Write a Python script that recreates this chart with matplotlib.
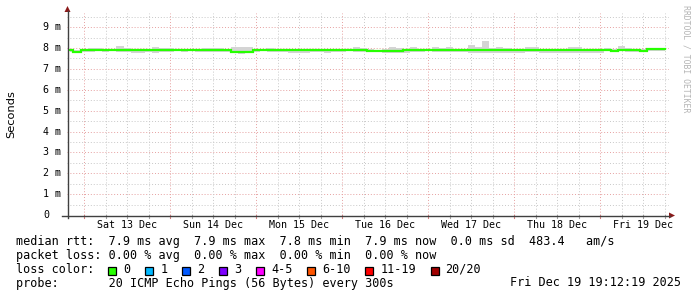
import matplotlib
matplotlib.use('Agg')
import matplotlib.pyplot as plt
from matplotlib.patches import Rectangle, Polygon
from matplotlib.lines import Line2D
from matplotlib.transforms import blended_transform_factory

# ---------------- data ----------------
# bin centres: hours since Fri 12 Dec 00:00, 2-hour bins
hours = [20 + 2 * i for i in range(84)]

median_ms = [
    7.89, 7.83, 7.89, 7.89, 7.89, 7.89, 7.89, 7.89, 7.89, 7.89,
    7.89, 7.89, 7.89, 7.89, 7.89, 7.89, 7.89, 7.89, 7.89, 7.89,
    7.89, 7.89, 7.89, 7.81, 7.80, 7.81, 7.89, 7.89, 7.89, 7.89,
    7.89, 7.89, 7.89, 7.89, 7.89, 7.89, 7.89, 7.89, 7.89, 7.89,
    7.89, 7.89, 7.87, 7.86, 7.84, 7.85, 7.88, 7.89, 7.89, 7.89,
    7.89, 7.89, 7.89, 7.89, 7.89, 7.89, 7.89, 7.89, 7.89, 7.89,
    7.89, 7.89, 7.89, 7.89, 7.89, 7.89, 7.89, 7.89, 7.89, 7.89,
    7.89, 7.89, 7.89, 7.89, 7.90, 7.93, 7.88, 7.92, 7.91, 7.89,
    7.87, 7.94, 7.94, 7.95,
]

smoke_max = [
    7.94, 7.90, 7.95, 7.99, 7.98, 7.95, 7.97, 8.10, 8.00, 7.97,
    7.96, 7.95, 8.03, 8.01, 7.99, 7.95, 7.96, 7.95, 7.96, 7.99,
    8.00, 7.98, 7.97, 8.03, 8.04, 8.03, 7.96, 7.95, 7.98, 7.97,
    7.95, 7.96, 7.95, 7.97, 7.96, 7.95, 7.97, 7.96, 7.95, 7.96,
    8.03, 8.02, 7.95, 7.93, 7.95, 8.04, 8.02, 7.96, 8.04, 7.96,
    7.95, 8.03, 8.00, 8.03, 7.96, 7.97, 8.17, 8.05, 8.33, 8.00,
    8.03, 8.02, 7.96, 7.97, 8.03, 8.03, 7.96, 7.95, 7.97, 7.96,
    8.06, 8.05, 7.96, 7.95, 7.97, 7.99, 7.96, 8.10, 7.98, 7.97,
    7.96, 8.00, 7.99, 8.01,
]

smoke_min = [
    7.83, 7.78, 7.82, 7.83, 7.84, 7.83, 7.84, 7.80, 7.83, 7.76,
    7.77, 7.83, 7.78, 7.80, 7.81, 7.84, 7.83, 7.84, 7.83, 7.80,
    7.79, 7.81, 7.83, 7.74, 7.70, 7.74, 7.83, 7.84, 7.80, 7.81,
    7.83, 7.78, 7.77, 7.78, 7.80, 7.79, 7.78, 7.80, 7.83, 7.84,
    7.79, 7.80, 7.80, 7.79, 7.76, 7.74, 7.75, 7.77, 7.82, 7.83,
    7.84, 7.82, 7.83, 7.81, 7.83, 7.82, 7.75, 7.76, 7.77, 7.78,
    7.76, 7.75, 7.75, 7.77, 7.80, 7.81, 7.76, 7.75, 7.77, 7.76,
    7.75, 7.76, 7.77, 7.75, 7.78, 7.84, 7.80, 7.84, 7.83, 7.82,
    7.80, 7.86, 7.87, 7.86,
]

x_start, x_end = 19.2, 187.2           # 7 days ending Fri 19 Dec 19:12
day_midnights = [24, 48, 72, 96, 120, 144, 168]
day_label_pos = [36, 60, 84, 108, 132, 156, 180]
day_labels = ['Sat 13 Dec', 'Sun 14 Dec', 'Mon 15 Dec', 'Tue 16 Dec',
              'Wed 17 Dec', 'Thu 18 Dec', 'Fri 19 Dec']
y_ticks = [0, 1, 2, 3, 4, 5, 6, 7, 8, 9]
y_labels = ['0', '1 m', '2 m', '3 m', '4 m', '5 m', '6 m', '7 m', '8 m', '9 m']

loss_labels = ['0', '1', '2', '3', '4-5', '6-10', '11-19', '20/20']
loss_colors = ['#26ff00', '#00b8ff', '#0059ff', '#7e00ff', '#ff00ff',
               '#ff5500', '#ff0000', '#a10000']

legend_rtt = 'median rtt:  7.9 ms avg  7.9 ms max  7.8 ms min  7.9 ms now  0.0 ms sd  483.4   am/s'
legend_loss = 'packet loss: 0.00 % avg  0.00 % max  0.00 % min  0.00 % now'
legend_color = 'loss color:'
legend_probe = 'probe:       20 ICMP Echo Pings (56 Bytes) every 300s'
stamp = 'Fri Dec 19 19:12:19 2025'
watermark = 'RRDTOOL / TOBI OETIKER'

# ---------------- layout ----------------
W, H = 697, 297
fig = plt.figure(figsize=(W / 100, H / 100), dpi=100)
fig.patch.set_facecolor('white')

def fx(px):
    return px / W

def fy(py):
    return 1 - py / H

L, R, T, B = 67, 669, 13, 215
ax = fig.add_axes([fx(L), fy(B), (R - L) / W, (B - T) / H])
ax.set_xlim(x_start, x_end)
ax.set_ylim(0, 9.68)
ax.set_facecolor('white')
for s in ax.spines.values():
    s.set_visible(False)
ax.set_xticks([])
ax.set_yticks([])

MONO = 'DejaVu Sans Mono'
dot = (0, (1, 2))
minor_col = '#c8c8c8'
major_col = '#e6a0a0'

# horizontal grid
for k in range(0, 20):
    yv = k * 0.5
    if yv <= 0 or yv > 9.68:
        continue
    if k % 2 == 0:
        ax.axhline(yv, color=major_col, lw=0.7, ls=dot, zorder=1)
    else:
        ax.axhline(yv, color=minor_col, lw=0.7, ls=dot, zorder=1)

# vertical grid
h = 24 - 6 * 3
while h < x_end:
    if h > x_start:
        if h in day_midnights:
            ax.axvline(h, color=major_col, lw=0.7, ls=dot, zorder=1)
        else:
            ax.axvline(h, color=minor_col, lw=0.7, ls=dot, zorder=1)
    h += 6

# smoke + median
ax.fill_between(hours, smoke_min, smoke_max, step='mid', color='#d4d4d4',
                lw=0, zorder=2)
ax.plot(hours, median_ms, drawstyle='steps-mid', color=loss_colors[0],
        lw=1.6, zorder=3, solid_joinstyle='miter')

# tick labels
tr_x = blended_transform_factory(ax.transData, fig.transFigure)
for p, lab in zip(day_label_pos, day_labels):
    ax.text(p, fy(224.5), lab, transform=tr_x, ha='center', va='center',
            family=MONO, fontsize=7.2, color='#000000')
tr_y = blended_transform_factory(fig.transFigure, ax.transData)
for v, lab in zip(y_ticks, y_labels):
    ax.text(fx(43), v, lab, transform=tr_y, ha='left', va='center',
            family=MONO, fontsize=7.2, color='#000000')

# small x ticks below axis
h = 24 - 6 * 3
while h < x_end:
    if h > x_start:
        col = '#d08080' if h in day_midnights else '#a0a0a0'
        ax.plot([h, h], [fy(215), fy(218)], transform=tr_x, color=col,
                lw=0.8, clip_on=False, zorder=4)
    h += 6

# axis lines and arrows
axis_col = '#404040'
arrow_col = '#8b1a1a'
fig.add_artist(Line2D([fx(67.5), fx(67.5)], [fy(218), fy(11)], color=axis_col, lw=1.0))
fig.add_artist(Line2D([fx(62), fx(670)], [fy(215.5), fy(215.5)], color=axis_col, lw=1.0))
fig.add_artist(Polygon([[fx(67.5), fy(6)], [fx(64.5), fy(12)], [fx(70.5), fy(12)]],
                       closed=True, color=arrow_col, lw=0))
fig.add_artist(Polygon([[fx(675), fy(215.5)], [fx(669), fy(212.5)], [fx(669), fy(218.5)]],
                       closed=True, color=arrow_col, lw=0))

# y axis label and watermark
fig.text(fx(11), fy(114), 'Seconds', rotation=90, ha='center', va='center',
         family='DejaVu Sans', fontsize=8.2, color='#000000')
fig.text(fx(686), fy(5), watermark, rotation=270, ha='center', va='top',
         family=MONO, fontsize=5.9, color='#b4b4b4')

# legend rows
fs = 8.5
fig.text(fx(16), fy(241.5), legend_rtt, ha='left', va='center', family=MONO, fontsize=fs)
fig.text(fx(16), fy(255.5), legend_loss, ha='left', va='center', family=MONO, fontsize=fs)
fig.text(fx(16), fy(269.5), legend_color, ha='left', va='center', family=MONO, fontsize=fs)
fig.text(fx(16), fy(283), legend_probe, ha='left', va='center', family=MONO, fontsize=fs)
fig.text(fx(681), fy(283), stamp, ha='right', va='center', family=MONO, fontsize=fs)

cw = 7.1
bx = 108.3
for lab, col in zip(loss_labels, loss_colors):
    fig.add_artist(Rectangle((fx(bx), fy(274.5)), 8 / W, 8 / H, facecolor=col,
                             edgecolor='black', lw=0.9))
    tx = bx + 15
    fig.text(fx(tx), fy(269.5), lab, ha='left', va='center', family=MONO, fontsize=fs)
    bx = tx + len(lab) * cw + 14.8

fig.savefig('out.png', dpi=100, facecolor='white')
